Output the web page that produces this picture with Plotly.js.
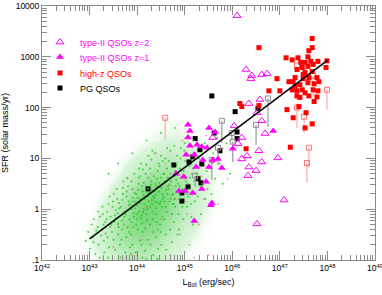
<!DOCTYPE html>
<html><head><meta charset="utf-8">
<script src="https://cdn.plot.ly/plotly-3.0.1.min.js"></script>
<style>html,body{margin:0;padding:0;background:#fff}#chart{width:382px;height:295px}</style>
</head><body><div id="chart"></div>
<script>
// All values as log10(L_Bol [erg/s]) and log10(SFR [Msun/yr])
// type-II QSOs z=2 (open triangles)
const t2L = [46.10,46.29,46.41,46.39,46.62,46.73,46.58,46.35,46.52,46.04,45.59,46.20,46.12,46.69,46.62,46.31,46.20,46.35,46.33,46.56,46.62,46.50,46.96,47.09,46.52];
const t2S = [3.81,2.75,2.63,2.57,2.65,2.67,2.16,2.08,1.90,1.64,1.41,1.41,1.29,1.49,1.74,1.05,0.99,0.83,0.66,1.15,0.93,0.76,1.01,0.18,-0.29];
// type-II QSOs z=1 (filled triangles)
const t1L = [45.07,45.11,45.07,45.11,45.26,45.36,45.47,45.51,45.64,45.03,45.20,45.38,45.24,45.51,45.70,45.78,45.59,46.01,46.86,44.82,44.98,44.88,45.01,45.17,45.36,45.45,45.57,45.55,45.20];
const t1S = [1.66,1.54,1.41,1.25,1.27,1.23,1.21,1.60,1.52,1.07,1.07,0.97,0.83,0.83,0.99,0.81,0.97,1.19,1.54,0.70,0.64,0.36,0.36,0.32,0.40,0.54,0.12,0.08,-0.23];
// high-z QSOs (filled squares)
const hzL = [46.56,47.68,47.68,47.61,47.13,47.26,47.38,47.44,47.59,47.53,47.65,47.70,47.80,47.99,47.97,47.59,47.36,47.47,47.53,47.68,47.49,47.32,47.28,47.19,47.49,47.61,47.78,47.32,47.42,47.59,47.72,47.82,47.26,47.36,47.47,47.53,47.70,47.80,46.94,46.77,47.00,47.36,47.42,47.61,47.78,47.72,47.40,46.16,46.20,46.56,47.15,47.28,47.55,47.53,47.68,47.22,46.29];
const hzS = [3.18,3.36,3.18,3.12,2.98,2.94,2.98,2.89,3.00,2.89,2.91,2.85,2.91,2.92,2.79,2.81,2.75,2.79,2.69,2.71,2.65,2.59,2.51,2.51,2.57,2.59,2.59,2.41,2.45,2.49,2.47,2.51,2.35,2.33,2.35,2.29,2.35,2.33,2.57,2.33,2.33,2.23,2.20,2.23,2.21,2.12,2.02,2.08,2.02,2.04,1.96,1.80,1.90,1.60,1.68,1.22,1.19];
// high-z QSOs, upper limits (open squares): value and bottom of the limit line
const hzUL = [47.36,47.70,47.99,47.36,47.51,47.61,47.57,44.59];
const hzUS = [2.83,2.63,2.35,2.00,1.82,1.21,0.91,1.80];
const hzULow = [2.83,2.21,1.96,1.60,1.50,0.81,0.52,1.37];
// PG QSOs (filled squares)
const pgL = [45.57,46.06,46.54,45.22,45.62,46.10,46.10,45.32,45.17,45.09,45.36,44.77,45.07,45.28,45.34,44.94,44.94,45.74,44.23];
const pgS = [2.23,1.92,1.98,1.39,1.50,1.52,1.39,1.17,1.03,0.93,0.89,0.87,0.44,0.60,0.52,0.32,0.16,1.15,0.40];
// PG QSOs, upper limits (open squares)
const pgUL = [45.78,45.99,46.01,46.50,46.75,45.70,45.57,45.22];
const pgUS = [1.74,1.50,1.33,1.66,2.18,1.21,0.97,0.66];
const pgULow = [1.31,1.35,0.93,1.27,1.62,0.87,0.58,0.44];
// regression line
const lineL = [43, 48];
const lineS = [-0.585, 2.93];
// low-luminosity AGN cloud: density of the green dots, estimated on a grid (bin edges, log units)
const denL = [42.75,43.0,43.25,43.5,43.75,44.0,44.25,44.5,44.75,45.0,45.25,45.5,45.75,46.0,46.25];
const denS = [-1.0,-0.75,-0.5,-0.25,0.0,0.25,0.5,0.75,1.0,1.25,1.5,1.75];
const denZ = [
 [0.02,0.10,0.25,0.40,0.50,0.50,0.45,0.30,0.15,0.06,0.02,0.00,0.00,0.00],
 [0.05,0.20,0.40,0.60,0.70,0.75,0.65,0.45,0.25,0.12,0.05,0.01,0.00,0.00],
 [0.05,0.15,0.40,0.65,0.85,0.90,0.85,0.65,0.40,0.20,0.08,0.02,0.00,0.00],
 [0.03,0.10,0.30,0.60,0.85,1.00,0.95,0.80,0.55,0.30,0.12,0.04,0.00,0.00],
 [0.01,0.05,0.20,0.45,0.75,0.95,1.00,0.90,0.65,0.40,0.18,0.06,0.01,0.00],
 [0.00,0.02,0.10,0.30,0.60,0.85,0.95,0.90,0.70,0.45,0.20,0.08,0.02,0.00],
 [0.00,0.01,0.05,0.15,0.40,0.60,0.75,0.75,0.60,0.40,0.20,0.08,0.02,0.00],
 [0.00,0.00,0.02,0.06,0.20,0.35,0.50,0.55,0.45,0.30,0.15,0.06,0.02,0.00],
 [0.00,0.00,0.00,0.02,0.06,0.15,0.25,0.35,0.30,0.20,0.10,0.05,0.02,0.00],
 [0.00,0.00,0.00,0.00,0.02,0.05,0.10,0.15,0.15,0.10,0.05,0.03,0.01,0.00],
 [0.00,0.00,0.00,0.00,0.00,0.02,0.05,0.08,0.08,0.05,0.03,0.02,0.00,0.00]];
// individual green dots of the cloud
const cloudL = [
42.92,42.97,43.01,43.04,
43.06,43.09,43.12,43.14,43.08,
43.17,43.19,43.22,43.24,43.21,43.18,
43.26,43.28,43.30,43.33,43.31,43.27,43.34,43.29,
43.36,43.38,43.40,43.43,43.41,43.37,43.44,43.39,43.42,
43.46,43.48,43.50,43.53,43.51,43.47,43.54,43.49,43.52,43.55,
43.56,43.58,43.60,43.63,43.61,43.57,43.64,43.59,43.62,43.65,43.60,
43.66,43.68,43.70,43.73,43.71,43.67,43.74,43.69,43.72,43.75,43.70,43.68,
43.76,43.78,43.80,43.83,43.81,43.77,43.84,43.79,43.82,43.85,43.80,43.78,43.83,43.77,
43.86,43.88,43.90,43.93,43.91,43.87,43.94,43.89,43.92,43.95,43.90,43.88,43.93,43.87,43.91,
43.96,43.98,44.00,44.03,44.01,43.97,44.04,43.99,44.02,44.05,44.00,43.98,44.03,43.97,44.01,44.04,
44.06,44.08,44.10,44.13,44.11,44.07,44.14,44.09,44.12,44.15,44.10,44.08,44.13,44.07,44.11,44.14,44.09,44.12,
44.16,44.18,44.20,44.23,44.21,44.17,44.24,44.19,44.22,44.25,44.20,44.18,44.23,44.17,44.21,44.24,44.19,44.22,
44.26,44.28,44.30,44.33,44.31,44.27,44.34,44.29,44.32,44.35,44.30,44.28,44.33,44.27,44.31,44.34,44.29,44.32,
44.36,44.38,44.40,44.43,44.41,44.37,44.44,44.39,44.42,44.45,44.40,44.38,44.43,44.37,44.41,44.44,44.39,44.42,
44.46,44.48,44.50,44.53,44.51,44.47,44.54,44.49,44.52,44.55,44.50,44.48,44.53,44.47,44.51,44.54,44.49,
44.56,44.58,44.60,44.63,44.61,44.57,44.64,44.59,44.62,44.65,44.60,44.58,44.63,44.57,44.61,44.64,
44.66,44.68,44.70,44.73,44.71,44.67,44.74,44.69,44.72,44.75,44.70,44.68,44.73,44.67,44.71,
44.76,44.78,44.80,44.83,44.81,44.77,44.84,44.79,44.82,44.85,44.80,44.78,44.83,44.77,
44.86,44.88,44.90,44.93,44.91,44.87,44.94,44.89,44.92,44.95,44.90,44.88,
44.96,44.98,45.00,45.03,45.01,44.97,45.04,44.99,45.02,45.05,45.00,
45.06,45.08,45.10,45.13,45.11,45.07,45.14,45.09,45.12,45.15,
45.16,45.18,45.20,45.23,45.21,45.17,45.24,45.19,
45.26,45.28,45.30,45.33,45.31,45.27,45.34,
45.37,45.40,45.43,45.46,45.42,45.48,
45.52,45.56,45.60,45.64,45.68,
45.73,45.80,45.88,45.95,
43.90,44.20,44.50,44.80,43.60,43.40];
const cloudS = [
-0.62,-0.45,-0.78,-0.30,
-0.55,-0.20,-0.88,-0.42,-0.65,
-0.35,-0.70,-0.15,-0.52,-0.95,-0.05,
-0.40,-0.10,-0.62,-0.25,-0.85,0.05,-0.48,-0.30,
-0.20,-0.55,0.10,-0.35,-0.75,-0.05,-0.15,-0.95,0.25,
-0.30,0.05,-0.60,-0.12,0.30,-0.45,-0.80,0.15,-0.25,-0.02,
-0.18,0.20,-0.50,0.02,-0.35,0.40,-0.70,-0.08,0.12,-0.95,-0.28,
0.05,-0.40,0.30,-0.15,0.55,-0.60,-0.05,0.18,-0.30,-0.85,0.42,-0.22,
-0.10,0.25,-0.35,0.08,0.45,-0.55,-0.20,0.62,0.15,-0.75,-0.02,0.35,-0.45,-0.95,
0.10,-0.25,0.40,-0.08,0.22,-0.50,0.70,0.00,-0.35,0.32,-0.70,0.55,-0.15,-0.88,0.15,
0.02,0.30,-0.20,0.50,-0.40,0.15,0.80,-0.10,0.38,-0.62,0.08,-0.30,0.62,-0.85,0.22,-0.05,
0.12,-0.18,0.45,0.28,-0.45,0.65,0.00,-0.70,0.35,0.10,-0.28,0.90,-0.05,0.20,-0.95,0.52,-0.12,0.78,
0.20,0.45,-0.10,0.62,0.05,-0.38,0.32,0.88,-0.60,0.15,-0.22,0.70,0.40,-0.82,0.00,1.05,-0.98,0.25,
0.30,0.05,0.55,-0.20,0.18,0.80,-0.45,0.40,-0.05,0.65,0.98,-0.70,0.25,-0.30,0.10,-0.90,0.48,1.15,
0.22,0.50,0.02,0.75,-0.25,0.35,0.12,-0.55,0.60,0.90,-0.10,0.28,-0.40,1.10,0.45,-0.78,0.15,-0.98,
0.35,0.10,0.62,-0.15,0.42,0.85,0.20,-0.45,0.05,0.70,1.05,-0.30,0.30,0.52,-0.70,0.95,0.15,
0.25,0.55,0.05,0.80,0.38,-0.20,0.62,1.00,-0.05,0.45,-0.50,0.15,1.20,0.70,-0.80,0.30,
0.40,0.15,0.70,-0.10,0.55,0.95,0.28,-0.40,0.85,0.10,1.15,0.48,-0.65,0.62,0.20,
0.30,0.65,0.05,0.88,0.45,-0.25,1.05,0.20,0.58,-0.50,0.75,1.25,0.35,0.10,
0.50,0.20,0.80,0.38,1.00,-0.10,0.62,0.30,1.20,0.05,0.45,-0.40,
0.40,0.75,0.15,0.55,0.95,-0.20,0.30,1.15,0.62,0.05,1.30,
0.50,0.25,0.85,0.10,0.62,1.05,-0.15,0.40,1.25,0.70,
0.35,0.80,0.55,1.10,0.15,-0.30,0.70,1.35,
0.60,0.25,1.00,0.45,1.25,0.85,-0.10,
0.50,0.95,0.20,0.75,1.30,0.40,
0.80,0.30,1.10,0.60,1.40,
0.90,0.50,1.30,0.70,
1.10,1.35,1.50,1.60,0.90,0.70];
// faint red dots in the cloud
const redDotL = [43.6,43.9,44.1,44.3,44.5,44.6,44.7,44.8,44.9,45.0,45.1,45.2,45.3,45.4,45.5,45.6,45.2,44.4,44.0,43.8,45.7,45.8,45.45,44.95,45.9,44.2,43.5,44.65,45.05,45.35];
const redDotS = [-0.3,0.4,-0.6,0.7,-0.2,0.9,-0.9,0.2,-0.5,0.6,-0.7,1.0,-0.3,0.2,-0.9,0.9,-0.95,1.1,-0.9,0.6,0.1,1.2,1.45,1.35,0.6,0.05,-0.75,0.45,-0.1,0.65];

const xTickExp = [42,43,44,45,46,47,48,49];
const yTickVals = [0.1,1,10,100,1000,10000];
const yTickText = ['.1','1','10','100','1000','10000'];
const legendNames = ['type-II QSOs z=2','type-II QSOs z=1','high-z QSOs','PG QSOs'];

const p10 = a => a.map(v => Math.pow(10, v));
const FONT = 'Liberation Sans, Arial, sans-serif';

function minorVals(lo, hi){ const out=[]; for(let d=lo; d<hi; d++) for(let k=2;k<=9;k++) out.push(k*Math.pow(10,d)); return out; }

const pgUy = p10(pgUS), pgLowy = p10(pgULow);
const hzUy = p10(hzUS), hzLowy = p10(hzULow);

const traces = [
  {x:p10(pgL), y:p10(pgS), mode:'markers', type:'scatter', name:legendNames[3], legend:'legend4',
   marker:{symbol:'square', size:5, color:'#000'}},
  {type:'heatmap', x:p10(denL), y:p10(denS), z:denZ, zsmooth:'best', showscale:false, hoverinfo:'skip',
   zmin:0, zmax:1, colorscale:[[0,'rgba(255,255,255,0)'],[0.15,'rgba(150,225,150,0.35)'],[1,'rgba(70,200,70,0.75)']]},
  {x:p10(cloudL), y:p10(cloudS), mode:'markers', type:'scatter', showlegend:false,
   marker:{symbol:'circle', size:2, color:'rgba(30,200,30,0.8)', line:{width:0}}},
  {x:p10(redDotL), y:p10(redDotS), mode:'markers', type:'scatter', showlegend:false,
   marker:{symbol:'circle', size:2, color:'rgba(235,110,110,0.6)', line:{width:0}}},
  {x:p10(pgUL), y:pgUy, mode:'markers', type:'scatter', showlegend:false,
   marker:{symbol:'square-open', size:5, color:'#8c8c8c', line:{width:1}},
   error_y:{type:'data', symmetric:false, array:pgUy.map(()=>0), arrayminus:pgUy.map((v,i)=>v-pgLowy[i]), width:0, thickness:1.2, color:'#9a9a9a'}},
  {x:p10(hzUL), y:hzUy, mode:'markers', type:'scatter', showlegend:false,
   marker:{symbol:'square-open', size:5, color:'#ff7070', line:{width:1}},
   error_y:{type:'data', symmetric:false, array:hzUy.map(()=>0), arrayminus:hzUy.map((v,i)=>v-hzLowy[i]), width:0, thickness:1.2, color:'#ffaaaa'}},
  {x:p10(t1L), y:p10(t1S), mode:'markers', type:'scatter', name:legendNames[1], legend:'legend2',
   marker:{symbol:'triangle-up', size:7, color:'#ff00ff'}},
  {x:p10(t2L), y:p10(t2S), mode:'markers', type:'scatter', name:legendNames[0], legend:'legend',
   marker:{symbol:'triangle-up-open', size:7, color:'#ff00ff', line:{width:1}}},
  {x:p10(hzL), y:p10(hzS), mode:'markers', type:'scatter', name:legendNames[2], legend:'legend3',
   marker:{symbol:'square', size:5, color:'#ff0000'}},
  {x:p10(lineL), y:p10(lineS), mode:'lines', type:'scatter', showlegend:false,
   line:{color:'#000', width:1.5}}
];

const legBase = (y,color) => ({x:-0.006, y:y, xanchor:'left', yanchor:'middle', bgcolor:'rgba(0,0,0,0)', borderwidth:0,
   font:{family:FONT, size:9, color:color}, itemwidth:30});

const axisCommon = {type:'log', showgrid:false, zeroline:false, showline:true, linecolor:'#8a8a8a', linewidth:1,
   ticks:'inside', ticklen:9, tickcolor:'#8a8a8a', tickwidth:1, mirror:'allticks', ticklabeloverflow:'allow',
   tickfont:{family:FONT, size:8.5, color:'#000'}};

const layout = {
  width:382, height:295, margin:{l:42, r:7, t:6, b:35},
  paper_bgcolor:'#fff', plot_bgcolor:'#fff', showlegend:true,
  xaxis: Object.assign({}, axisCommon, {range:[42,49], tickvals:xTickExp.map(e=>Math.pow(10,e)),
     ticktext:xTickExp.map(e=>'10<sup>'+e+'</sup>'),
     minor:{tickvals:minorVals(42,49), ticks:'inside', ticklen:5, tickcolor:'#8a8a8a', tickwidth:1},
     title:{text:'L<sub>Bol</sub> (erg/sec)', font:{family:FONT, size:9, color:'#000'}, standoff:6}}),
  yaxis: Object.assign({}, axisCommon, {range:[-1,4], tickvals:yTickVals, ticktext:yTickText,
     minor:{tickvals:minorVals(-1,4), ticks:'inside', ticklen:5, tickcolor:'#8a8a8a', tickwidth:1},
     title:{text:'SFR (solar mass/yr)', font:{family:FONT, size:9, color:'#000'}, standoff:6}}),
  legend: legBase(0.858,'#ff00ff'),
  legend2: legBase(0.799,'#ff00ff'),
  legend3: legBase(0.736,'#ff0000'),
  legend4: legBase(0.677,'#000000')
};

Plotly.newPlot('chart', traces, layout, {staticPlot:true, displayModeBar:false});
</script></body></html>
